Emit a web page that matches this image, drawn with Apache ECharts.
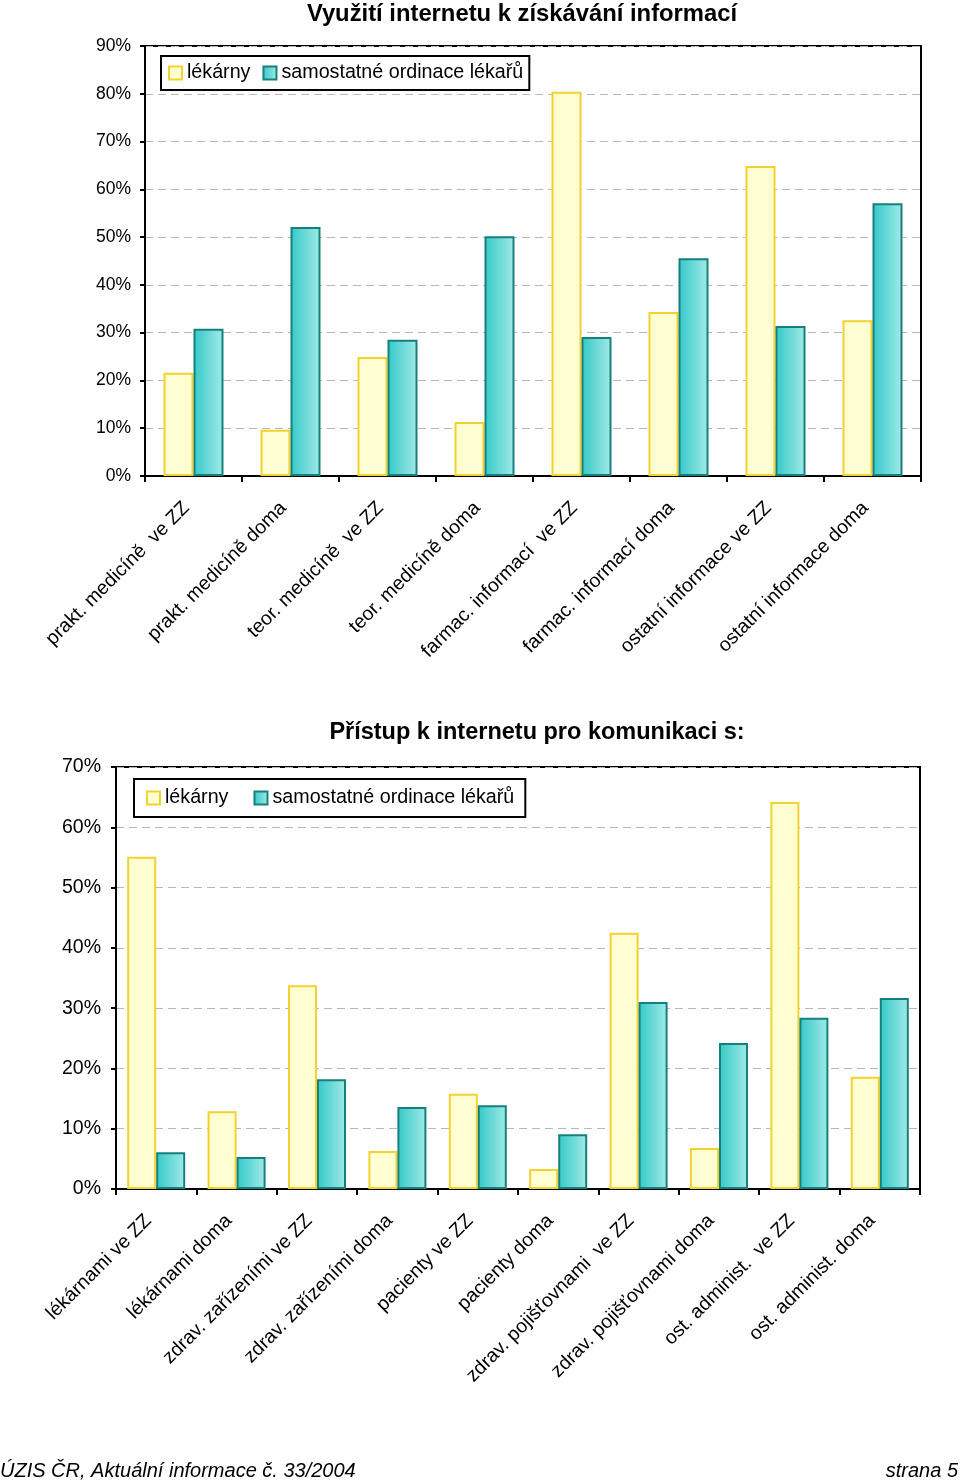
<!DOCTYPE html>
<html><head><meta charset="utf-8">
<script src="https://cdn.jsdelivr.net/npm/echarts@6/dist/echarts.min.js"></script>
<style>html,body{margin:0;padding:0;background:#fff}#c{width:960px;height:1482px}</style>
</head><body><div id="c"></div>
<script>
const title1 = 'Využití internetu k získávání informací';
const title2 = 'Přístup k internetu pro komunikaci s:';
const seriesNames = ['lékárny', 'samostatné ordinace lékařů'];
const cats1 = ['prakt. medicíně  ve ZZ','prakt. medicíně doma','teor. medicíně  ve ZZ','teor. medicíně doma','farmac. informací  ve ZZ','farmac. informací doma','ostatní informace ve ZZ','ostatní informace doma'];
const lekarny1 = [21.6, 9.7, 24.9, 11.3, 80.4, 34.3, 64.9, 32.6];
const ordinace1 = [30.8, 52.1, 28.5, 50.2, 29.1, 45.6, 31.4, 57.1];
const cats2 = ['lékárnami ve ZZ','lékárnami doma','zdrav. zařízeními ve ZZ','zdrav. zařízeními doma','pacienty ve ZZ','pacienty doma','zdrav. pojišťovnami  ve ZZ','zdrav. pojišťovnami doma','ost. administ.  ve ZZ','ost. administ. doma'];
const lekarny2 = [55.1, 12.9, 33.8, 6.3, 15.8, 3.3, 42.5, 6.8, 64.2, 18.6];
const ordinace2 = [6.1, 5.3, 18.2, 13.6, 13.9, 9.1, 31.0, 24.2, 28.4, 31.7];
const footerLeft = 'ÚZIS ČR, Aktuální informace č. 33/2004';
const footerRight = 'strana 5';

const FONT = '"Liberation Sans", Arial, sans-serif';
const yellowStyle = {color:'#FFFFD2', borderColor:'#F2D231', borderWidth:2};
const tealStyle = {color:{type:'linear',x:0,y:0,x2:1,y2:0,colorStops:[{offset:0,color:'#34C9C9'},{offset:1,color:'#A2EAE6'}]}, borderColor:'#17807C', borderWidth:2};

function xAxis(idx, cats, fs, margin, pad){
  return {type:'category', gridIndex:idx, data:cats,
    axisLine:{lineStyle:{color:'#000', width:2}},
    axisTick:{show:true, length:6, lineStyle:{color:'#000', width:2}},
    axisLabel:{rotate:45, interval:0, margin:margin, padding:[0,pad,0,0], color:'#000', fontSize:fs, fontFamily:FONT}};
}
function yAxis(idx, max, fs, margin){
  return {type:'value', gridIndex:idx, min:0, max:max, interval:10,
    axisLine:{show:true, lineStyle:{color:'#000', width:2}},
    axisTick:{show:true, inside:false, length:5, lineStyle:{color:'#000', width:2}},
    axisLabel:{formatter:'{value}%', color:'#000', fontSize:fs, fontFamily:FONT, margin:margin},
    splitLine:{show:true, lineStyle:{color:'#B8B8B8', type:[8,5], width:1}}};
}
function legend(left, top, gap, pad){
  return {left:left, top:top, data:seriesNames, itemWidth:13, itemHeight:13, itemGap:gap,
    icon:'rect', borderColor:'#000', borderWidth:2, padding:pad, backgroundColor:'#fff',
    textStyle:{color:'#000', fontSize:19.7, fontFamily:FONT}};
}
const chart = echarts.init(document.getElementById('c'), null, {renderer:'canvas'});
chart.setOption({
  animation:false,
  backgroundColor:'#fff',
  title:[
    {text:title1, left:517, top:-3, textAlign:'center', textStyle:{fontSize:23.8, fontWeight:'bold', fontFamily:FONT, color:'#000'}},
    {text:title2, left:532, top:716, textAlign:'center', textStyle:{fontSize:23.5, fontWeight:'bold', fontFamily:FONT, color:'#000'}}
  ],
  legend:[legend(161, 56, 12, [7,6,7,7]), legend(134, 779, 25, [9,11,9,12])],
  grid:[
    {left:145, top:46, width:776, height:430, show:true, borderColor:'#000', borderWidth:2, containLabel:false},
    {left:116, top:767, width:804, height:422, show:true, borderColor:'#000', borderWidth:2, containLabel:false}
  ],
  xAxis:[xAxis(0, cats1, 19.5, 22, 10), xAxis(1, cats2, 19.5, 21, 11)],
  yAxis:[yAxis(0, 90, 17.5, 14), yAxis(1, 70, 19.5, 15)],
  series:[
    {name:seriesNames[0], type:'bar', xAxisIndex:0, yAxisIndex:0, data:lekarny1, barWidth:30, barGap:'0%', itemStyle:yellowStyle},
    {name:seriesNames[1], type:'bar', xAxisIndex:0, yAxisIndex:0, data:ordinace1, barWidth:30, barGap:'0%', itemStyle:tealStyle},
    {name:seriesNames[0], type:'bar', xAxisIndex:1, yAxisIndex:1, data:lekarny2, barWidth:29, barGap:'0%', itemStyle:yellowStyle},
    {name:seriesNames[1], type:'bar', xAxisIndex:1, yAxisIndex:1, data:ordinace2, barWidth:29, barGap:'0%', itemStyle:tealStyle}
  ],
  graphic:[
    {type:'text', left:0, top:1461, style:{text:footerLeft, fontSize:20, fontStyle:'italic', fontFamily:FONT, fill:'#000'}},
    {type:'text', right:2, top:1461, style:{text:footerRight, fontSize:20, fontStyle:'italic', fontFamily:FONT, fill:'#000'}}
  ]
});
</script></body></html>
